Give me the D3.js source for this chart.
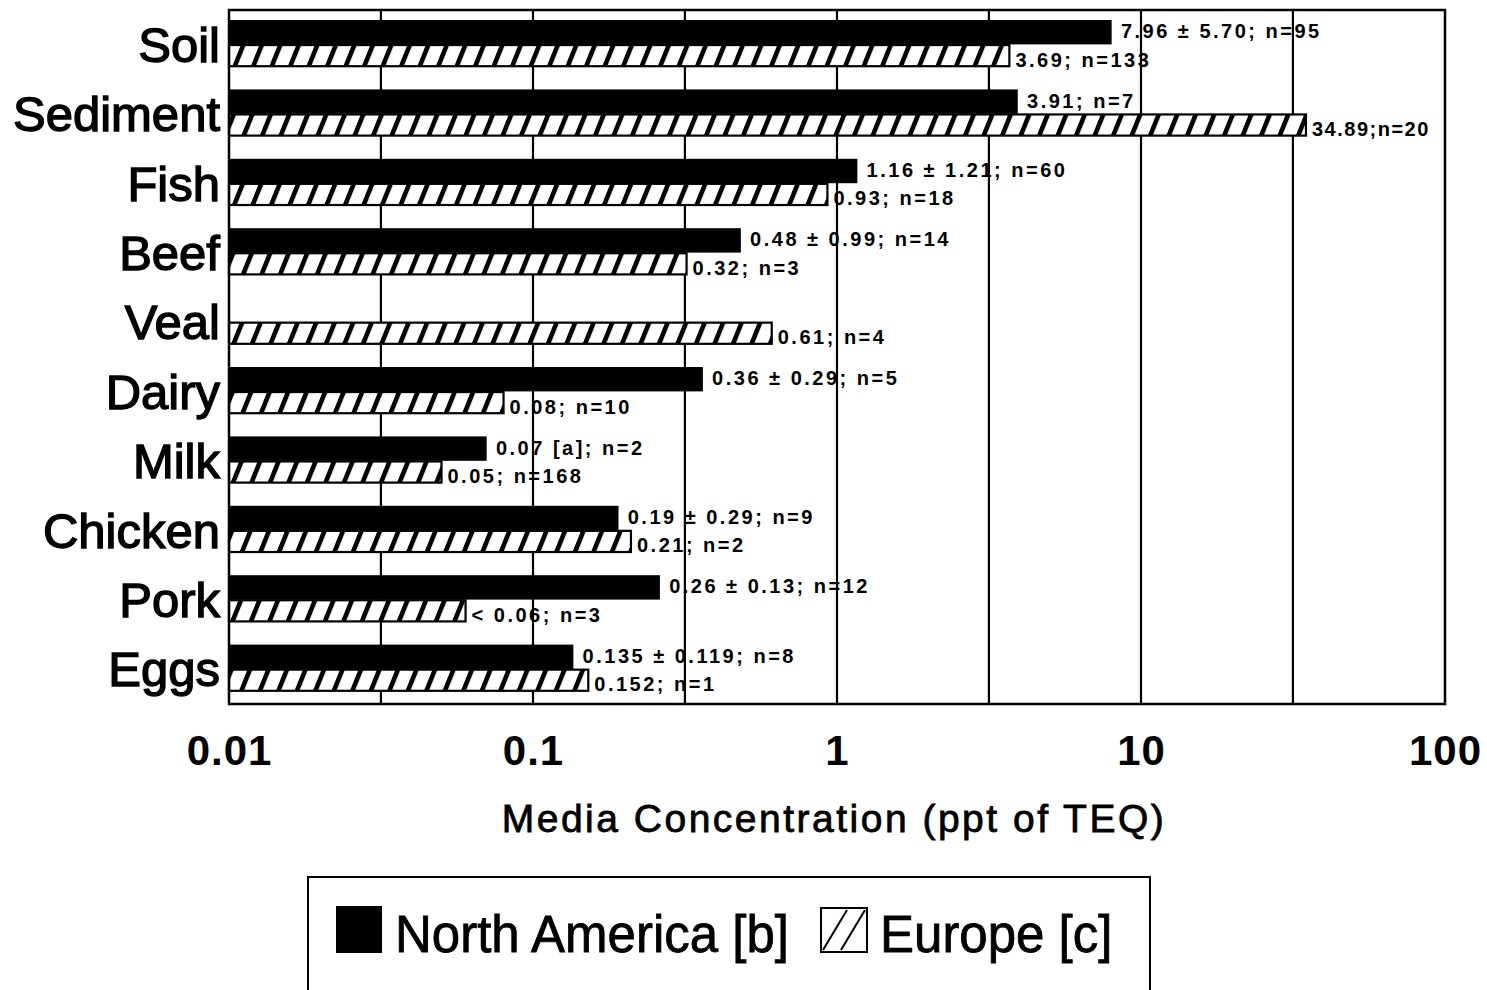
<!DOCTYPE html>
<html><head><meta charset="utf-8">
<script src="https://cdn.jsdelivr.net/npm/d3@7"></script>
<style>body{margin:0;background:#fff}svg{display:block}</style>
</head><body>
<script>
const categories = ["Soil","Sediment","Fish","Beef","Veal","Dairy","Milk","Chicken","Pork","Eggs"];
const northAmerica = [7.96, 3.91, 1.16, 0.48, null, 0.36, 0.07, 0.19, 0.26, 0.135];
const europe = [3.69, 34.89, 0.93, 0.32, 0.61, 0.08, 0.05, 0.21, 0.06, 0.152];
const naLabels = ["7.96 ± 5.70; n=95","3.91; n=7","1.16 ± 1.21; n=60","0.48 ± 0.99; n=14",null,"0.36 ± 0.29; n=5","0.07 [a]; n=2","0.19 ± 0.29; n=9","0.26 ± 0.13; n=12","0.135 ± 0.119; n=8"];
const euLabels = ["3.69; n=133","34.89;n=20","0.93; n=18","0.32; n=3","0.61; n=4","0.08; n=10","0.05; n=168","0.21; n=2","< 0.06; n=3","0.152; n=1"];
const tickValues = [0.01, 0.1, 1, 10, 100];
const tickLabels = ["0.01","0.1","1","10","100"];
const gridValues = [0.0316, 0.1, 0.316, 1, 3.16, 10, 31.6];
const seriesNames = ["North America [b]", "Europe [c]"];

const W = 1487, H = 990;
const L = 229, R = 1445, T = 10, B = 704;
const svg = d3.select("body").append("svg").attr("width", W).attr("height", H);
const font = "'Liberation Sans', Arial, Helvetica, sans-serif";

const defs = svg.append("defs");
const pat = defs.append("pattern").attr("id","hatch").attr("patternUnits","userSpaceOnUse")
  .attr("width",18.5).attr("height",10).attr("patternTransform","skewX(-22)");
pat.append("rect").attr("width",18.5).attr("height",10).attr("fill","#fff");
pat.append("rect").attr("x",0).attr("width",5).attr("height",10).attr("fill","#000");

const x = d3.scaleLog().domain([0.01, 100]).range([L, R]);
const y = d3.scaleBand().domain(categories).range([T, B]).padding(0);
const bw = y.bandwidth();
const naOff = bw*0.155, naH = bw*0.33;
const euOff = bw*0.505, euH = bw*0.305;

// value labels
const labG = svg.append("g").attr("font-family", font).attr("font-weight","bold")
  .attr("font-size",20).attr("letter-spacing","2.5px");
categories.forEach((c,i)=>{
  if (northAmerica[i] != null) {
    labG.append("text").attr("x", x(northAmerica[i]) + 10)
      .attr("y", y(c) + naOff + naH/2 + 6).text(naLabels[i]);
  }
  labG.append("text").attr("x", x(europe[i]) + 6)
    .attr("y", y(c) + euOff + euH/2 + 11).text(euLabels[i])
    .attr("letter-spacing", i===1 ? "1.5px" : "2.5px");
});

// gridlines
svg.append("g").selectAll("line").data(gridValues).join("line")
  .attr("x1", d=>x(d)).attr("x2", d=>x(d)).attr("y1", T).attr("y2", B)
  .attr("stroke","#000").attr("stroke-width",2.2);

// bars
const barG = svg.append("g");
categories.forEach((c,i)=>{
  if (northAmerica[i] != null) {
    barG.append("rect").attr("x", x(0.01)).attr("y", y(c)+naOff)
      .attr("width", x(northAmerica[i]) - x(0.01)).attr("height", naH)
      .attr("fill","#000").attr("stroke","#000").attr("stroke-width",1.5);
  }
  barG.append("rect").attr("x", x(0.01)).attr("y", y(c)+euOff)
    .attr("width", x(europe[i]) - x(0.01)).attr("height", euH)
    .attr("fill","url(#hatch)").attr("stroke","#000").attr("stroke-width",2.2);
});

// frame
svg.append("rect").attr("x",L).attr("y",T).attr("width",R-L).attr("height",B-T)
  .attr("fill","none").attr("stroke","#000").attr("stroke-width",2.5);

// category labels
svg.append("g").selectAll("text").data(categories).join("text")
  .attr("x", 220).attr("y", d=>y(d)+bw/2+17).attr("text-anchor","end")
  .attr("font-family", font).attr("font-size",49).attr("fill","#000")
  .attr("stroke","#000").attr("stroke-width",1.4).text(d=>d);

// x axis
const xAxis = d3.axisBottom(x).tickValues(tickValues).tickFormat((d,i)=>tickLabels[i]).tickSize(0).tickPadding(0);
const ax = svg.append("g").attr("transform",`translate(0,${B})`).call(xAxis);
ax.select(".domain").remove();
ax.selectAll("text").attr("font-family",font).attr("font-weight","bold")
  .attr("font-size",42).attr("fill","#000").attr("dy",0).attr("y",61).attr("letter-spacing","1px");

svg.append("text").attr("x", 834).attr("y", 832).attr("text-anchor","middle")
  .attr("font-family",font).attr("font-size",39).attr("letter-spacing","2.5px")
  .attr("fill","#000").attr("stroke","#000").attr("stroke-width",0.8)
  .text("Media Concentration (ppt of TEQ)");

// legend
const lg = svg.append("g");
lg.append("rect").attr("x",308).attr("y",877).attr("width",842).attr("height",140)
  .attr("fill","none").attr("stroke","#000").attr("stroke-width",2);
lg.append("rect").attr("x",336).attr("y",906).attr("width",46).attr("height",47).attr("fill","#000");
lg.append("text").attr("x",395).attr("y",952).attr("font-family",font).attr("font-size",51)
  .attr("fill","#000").attr("stroke","#000").attr("stroke-width",0.8).text(seriesNames[0]);
lg.append("rect").attr("x",821).attr("y",908).attr("width",46).attr("height",44)
  .attr("fill","#fff").attr("stroke","#000").attr("stroke-width",2);
[[823,950,847,910],[841,950,865,910]].forEach(p=>{
  lg.append("line").attr("x1",p[0]).attr("y1",p[1]).attr("x2",p[2]).attr("y2",p[3])
    .attr("stroke","#000").attr("stroke-width",2);
});
lg.append("text").attr("x",880).attr("y",952).attr("font-family",font).attr("font-size",51)
  .attr("fill","#000").attr("stroke","#000").attr("stroke-width",0.8).text(seriesNames[1]);
</script>
</body></html>
